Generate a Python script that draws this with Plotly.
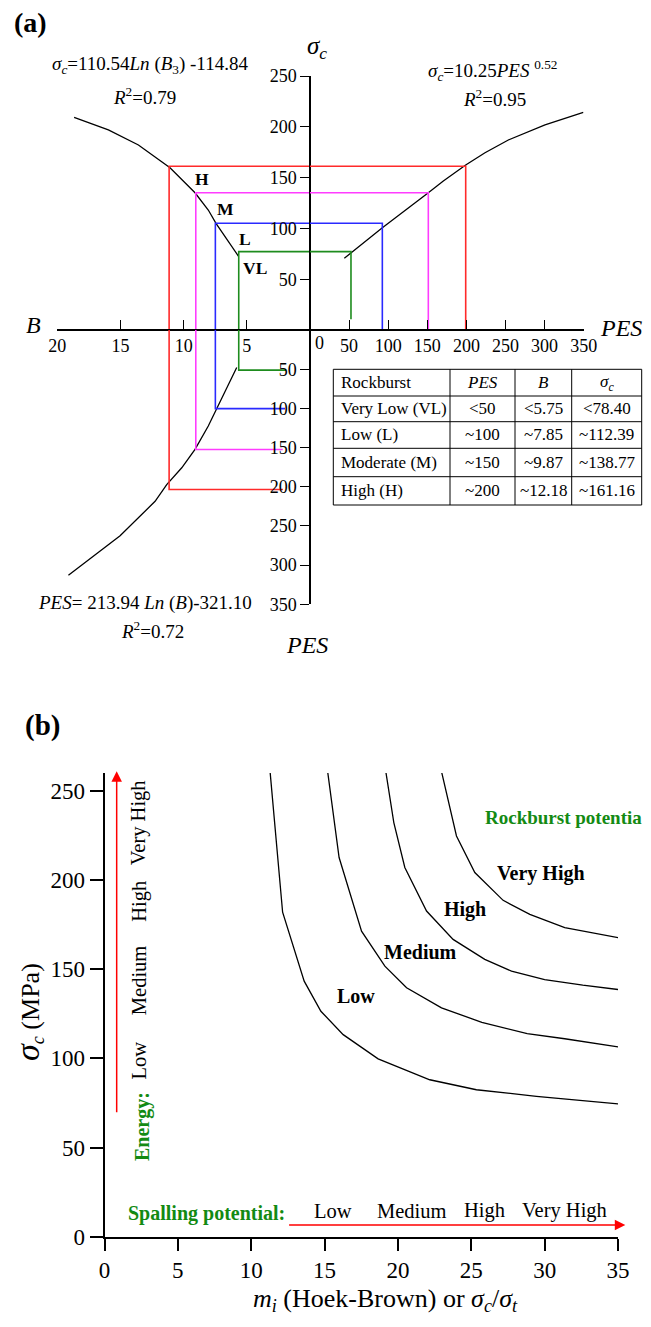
import plotly.graph_objects as go

# The page body keeps its default 8px margin, so the figure is sized to fit the
# 651x1327 window exactly, and reference pixel positions are offset by that margin.
PAGE_W, PAGE_H, BODY_MARGIN = 651, 1327, 8
W, H = PAGE_W - 2 * BODY_MARGIN, PAGE_H - 2 * BODY_MARGIN


def fx(p):
    return (p - BODY_MARGIN) / W


def fy(p):
    return 1 - (p - BODY_MARGIN) / H


FONT = "Liberation Serif, Times New Roman, Times, serif"

# ---------------- Panel (a) data ----------------
b_ticks = [5, 10, 15, 20]
pes_right_ticks = [50, 100, 150, 200, 250, 300, 350]
sigma_ticks = [50, 100, 150, 200, 250]
pes_down_ticks = [50, 100, 150, 200, 250, 300, 350]

# sigma_c vs B (upper-left quadrant)
curve_sb_B = [18.67, 15.96, 13.58, 11.08, 9.10, 8.05, 7.44, 5.67]
curve_sb_sigma = [209.3, 196.9, 182.1, 159.7, 135.1, 118.1, 105.0, 72.8]
# sigma_c vs PES (upper-right quadrant)
curve_sp_pes = [43.9, 91.7, 151.3, 170.5, 199.1, 223.8, 253.6, 300.5, 349.5]
curve_sp_sigma = [70.6, 100.1, 135.1, 146.7, 162.4, 174.5, 187.0, 201.8, 214.3]
# PES vs B (lower-left quadrant)
curve_pb_B = [5.80, 7.38, 8.05, 9.10, 10.15, 11.34, 12.26, 15.03, 19.12]
curve_pb_pes = [47.8, 99.0, 122.5, 152.4, 175.8, 197.2, 218.6, 262.5, 312.8]

# rockburst classes (drawn brackets)
levels = ["VL", "L", "M", "H"]
level_sigma = [77.1, 105.0, 135.1, 161.2]
level_B = [5.64, 7.49, 9.04, 11.15]
level_pes_right = [52.4, 92.5, 151.3, 199.1]
level_pes_lower = [51.2, 100.3, 152.4, 203.6]
level_B_end = [1.9, 1.98, 2.16, 2.14]
level_right_floor = [10.5, 0, 0, 0]
level_colors = ["#1e8c1e", "#2a2aff", "#ff3cff", "#ff2a2a"]
level_label_B = [4.35, 5.14, 6.67, 8.57]
level_label_sigma = [60.7, 89.3, 118.8, 148.6]

# table
table_header = ["Rockburst", "<i>PES</i>", "<i>B</i>", "<i>σ<sub>c</sub></i>"]
table_class = ["Very Low (VL)", "Low (L)", "Moderate (M)", "High (H)"]
table_pes = ["&lt;50", "~100", "~150", "~200"]
table_B = ["&lt;5.75", "~7.85", "~9.87", "~12.18"]
table_sigma = ["&lt;78.40", "~112.39", "~138.77", "~161.16"]

# ---------------- Panel (b) data ----------------
mi_ticks = [0, 5, 10, 15, 20, 25, 30, 35]
sc_ticks = [0, 50, 100, 150, 200, 250]

low_x = [11.27, 12.14, 13.61, 14.75, 16.27, 18.65, 22.17, 25.35, 29.44, 35.1]
low_y = [262.2, 182.0, 143.3, 126.4, 113.3, 99.7, 88.0, 82.4, 78.7, 74.4]
med_x = [15.18, 15.99, 17.52, 19.11, 20.59, 22.97, 25.72, 28.81, 31.37, 35.0]
med_y = [262.6, 212.6, 171.3, 151.7, 139.6, 128.3, 120.2, 113.9, 111.0, 106.4]
high_x = [19.13, 19.72, 20.47, 21.95, 23.76, 25.92, 27.74, 30.0, 32.6, 35.0]
high_y = [263.1, 232.2, 207.0, 182.6, 166.7, 155.5, 148.9, 144.2, 141.0, 138.6]
vhigh_x = [22.92, 23.99, 25.24, 27.17, 28.99, 31.37, 35.07]
vhigh_y = [262.6, 224.7, 204.2, 188.6, 180.7, 173.3, 167.6]

curve_labels = ["Low", "Medium", "High", "Very High"]
curve_label_x = [17.12, 21.51, 24.54, 29.76]
curve_label_y = [135.0, 159.4, 183.7, 203.5]

energy_labels = ["Low", "Medium", "High", "Very High"]
energy_label_y = [99, 144, 188, 232]
spalling_labels = ["Low", "Medium", "High", "Very High"]
spalling_label_x = [15.57, 20.99, 25.9, 31.37]

energy_arrow_x = [0.83, 0.83]
energy_arrow_y = [69, 261]
spalling_arrow_x = [12.48, 35.5]
spalling_arrow_y = [6.6, 6.6]

fig = go.Figure()

line_a = dict(color="black", width=1.3)
fig.add_trace(go.Scatter(x=curve_sb_B, y=curve_sb_sigma, mode="lines", line=line_a,
                         xaxis="x", yaxis="y", hoverinfo="skip"))
fig.add_trace(go.Scatter(x=curve_sp_pes, y=curve_sp_sigma, mode="lines", line=line_a,
                         xaxis="x2", yaxis="y", hoverinfo="skip"))
fig.add_trace(go.Scatter(x=curve_pb_B, y=curve_pb_pes, mode="lines", line=line_a,
                         xaxis="x", yaxis="y2", hoverinfo="skip"))

for i in range(len(levels)):
    ln = dict(color=level_colors[i], width=1.6)
    fig.add_trace(go.Scatter(x=[level_B[i], level_B[i], 0], y=[0, level_sigma[i], level_sigma[i]],
                             mode="lines", line=ln, xaxis="x", yaxis="y", hoverinfo="skip"))
    fig.add_trace(go.Scatter(x=[0, level_pes_right[i], level_pes_right[i]],
                             y=[level_sigma[i], level_sigma[i], level_right_floor[i]],
                             mode="lines", line=ln, xaxis="x2", yaxis="y", hoverinfo="skip"))
    fig.add_trace(go.Scatter(x=[level_B[i], level_B[i], level_B_end[i]],
                             y=[0, level_pes_lower[i], level_pes_lower[i]],
                             mode="lines", line=ln, xaxis="x", yaxis="y2", hoverinfo="skip"))

line_b = dict(color="black", width=1.3)
for xs, ys in [(low_x, low_y), (med_x, med_y), (high_x, high_y), (vhigh_x, vhigh_y)]:
    fig.add_trace(go.Scatter(x=xs, y=ys, mode="lines", line=line_b, xaxis="x3", yaxis="y3",
                             hoverinfo="skip"))

ann = []
shapes = []


def A(text, x, y, xref="paper", yref="paper", size=16, color="black", xanchor="center",
      yanchor="middle", **kw):
    d = dict(text=text, x=x, y=y, xref=xref, yref=yref, showarrow=False,
             xanchor=xanchor, yanchor=yanchor,
             font=dict(family=FONT, size=size, color=color))
    d.update(kw)
    ann.append(d)


# ---- table drawn with shapes + text ----
col_edges = [333.3, 450, 515, 571.7, 641.7]
row_edges = [369.3, 396, 421.7, 448.3, 476.7, 505]
tline = dict(color="black", width=1)
shapes.append(dict(type="rect", xref="paper", yref="paper", x0=fx(col_edges[0]), x1=fx(col_edges[-1]),
                   y0=fy(row_edges[-1]), y1=fy(row_edges[0]), line=tline, fillcolor="white", layer="below"))
for cx in col_edges[1:-1]:
    shapes.append(dict(type="line", xref="paper", yref="paper", x0=fx(cx), x1=fx(cx),
                       y0=fy(row_edges[-1]), y1=fy(row_edges[0]), line=tline))
for ry in row_edges[1:-1]:
    shapes.append(dict(type="line", xref="paper", yref="paper", x0=fx(col_edges[0]), x1=fx(col_edges[-1]),
                       y0=fy(ry), y1=fy(ry), line=tline))
table_cols = [[table_header[0]] + table_class, [table_header[1]] + table_pes,
              [table_header[2]] + table_B, [table_header[3]] + table_sigma]
for c, col in enumerate(table_cols):
    for r, txt in enumerate(col):
        yc = fy((row_edges[r] + row_edges[r + 1]) / 2)
        if c == 0:
            A(txt, fx(col_edges[0] + 6), yc, size=17, xanchor="left")
        else:
            A(txt, fx((col_edges[c] + col_edges[c + 1]) / 2), yc, size=17)

# panel (a) labels
A("<b>(a)</b>", fx(30), fy(23), size=28)
A("<i>σ<sub>c</sub></i>", fx(317), fy(47), size=25)
A("<i>B</i>", fx(33), fy(325), size=24)
A("<i>PES</i>", fx(621), fy(328), size=24)
A("<i>PES</i>", fx(307), fy(645), size=24)
A("0", 0, 0, xref="x2", yref="y", size=18, xshift=9, yshift=-13)
A("<i>σ</i><sub><i>c</i></sub>=110.54<i>Ln</i> (<i>B</i><sub>3</sub>) -114.84", fx(150), fy(65), size=19)
A("<i>R</i><sup>2</sup>=0.79", fx(144), fy(96), size=19)
A("<i>σ</i><sub><i>c</i></sub>=10.25<i>PES</i> <sup>0.52</sup>", fx(493), fy(71), size=19)
A("<i>R</i><sup>2</sup>=0.95", fx(495), fy(98), size=19)
A("<i>PES</i>= 213.94 <i>Ln</i> (<i>B</i>)-321.10", fx(145), fy(603), size=19)
A("<i>R</i><sup>2</sup>=0.72", fx(152), fy(630), size=19)
for i in range(len(levels)):
    A("<b>%s</b>" % levels[i], level_label_B[i], level_label_sigma[i], xref="x", yref="y", size=17.5)

# panel (b) labels
A("<b>(b)</b>", fx(42), fy(725), size=29)
for i in range(4):
    A("<b>%s</b>" % curve_labels[i], curve_label_x[i], curve_label_y[i], xref="x3", yref="y3", size=20)
A("<b>Rockburst potentia</b>", 25.8, 235.1, xref="x3", yref="y3", size=19, color="#138a13",
  xanchor="left")
for i in range(4):
    A(energy_labels[i], 2.37, energy_label_y[i], xref="x3", yref="y3", size=20.5, textangle=-90)
A("<b>Energy:</b>", 2.55, 62, xref="x3", yref="y3", size=20, color="#138a13", textangle=-90)
A("<b>Spalling potential:</b>", 12.43, 13.2, xref="x3", yref="y3", size=20, color="#138a13",
  xanchor="right")
for i in range(4):
    A(spalling_labels[i], spalling_label_x[i], 14.5, xref="x3", yref="y3", size=20.5)
A('<i><span style="font-size:34px">σ</span><sub>c</sub></i> (MPa)', fx(28), fy(1012), size=26,
  textangle=-90)
A("<i>m<sub>i</sub></i> (Hoek-Brown) or <i>σ<sub>c</sub></i>/<i>σ<sub>t</sub></i>", fx(385), fy(1318),
  size=26, yanchor="bottom")

# arrows
ann.append(dict(x=energy_arrow_x[1], y=energy_arrow_y[1], ax=energy_arrow_x[0], ay=energy_arrow_y[0],
                xref="x3", yref="y3", axref="x3", ayref="y3", text="", showarrow=True,
                arrowhead=2, arrowsize=1.4, arrowwidth=1.5, arrowcolor="#ff0000"))
ann.append(dict(x=spalling_arrow_x[1], y=spalling_arrow_y[1], ax=spalling_arrow_x[0], ay=spalling_arrow_y[0],
                xref="x3", yref="y3", axref="x3", ayref="y3", text="", showarrow=True,
                arrowhead=2, arrowsize=1.4, arrowwidth=1.5, arrowcolor="#ff0000"))

ax_common = dict(showline=True, linecolor="black", showgrid=False, zeroline=False, automargin=False,
                 fixedrange=True, tickcolor="black", tickfont=dict(family=FONT, size=18, color="black"))
ax_b = {**ax_common, "tickfont": dict(family=FONT, size=23, color="black")}

fig.update_layout(
    width=W, height=H, margin=dict(l=0, r=0, t=0, b=0, pad=0, autoexpand=False),
    paper_bgcolor="white", plot_bgcolor="white", showlegend=False,
    font=dict(family=FONT, color="black"),
    annotations=ann, shapes=shapes,
    xaxis=dict(domain=[fx(57.3), fx(310)], range=[20, 0], anchor="free", position=fy(330),
               tickvals=b_ticks, ticks="inside", ticklen=9, tickwidth=1.3, linewidth=1.5, **ax_common),
    xaxis2=dict(domain=[fx(310), fx(583.7)], range=[0, 350], anchor="free", position=fy(330),
                tickvals=pes_right_ticks, ticks="inside", ticklen=9, tickwidth=1.3, linewidth=1.5,
                **ax_common),
    yaxis=dict(domain=[fy(330), fy(76)], range=[0, 250], anchor="free", position=fx(310),
               tickvals=sigma_ticks, ticks="outside", ticklen=9, tickwidth=1.3, linewidth=1.5, **ax_common),
    yaxis2=dict(domain=[fy(604.3), fy(330)], range=[350, 0], anchor="free", position=fx(310),
                tickvals=pes_down_ticks, ticks="outside", ticklen=9, tickwidth=1.3, linewidth=1.5,
                **ax_common),
    xaxis3=dict(domain=[fx(104.5), fx(618)], range=[0, 35], anchor="y3",
                tickvals=mi_ticks, ticks="outside", ticklen=12, tickwidth=1.5, linewidth=2, **ax_b),
    yaxis3=dict(domain=[fy(1236.7), fy(773)], range=[0, 260], anchor="x3",
                tickvals=sc_ticks, ticks="outside", ticklen=13, tickwidth=1.5, linewidth=2, **ax_b),
)

fig.write_html("out.html", config={"displayModeBar": False})
